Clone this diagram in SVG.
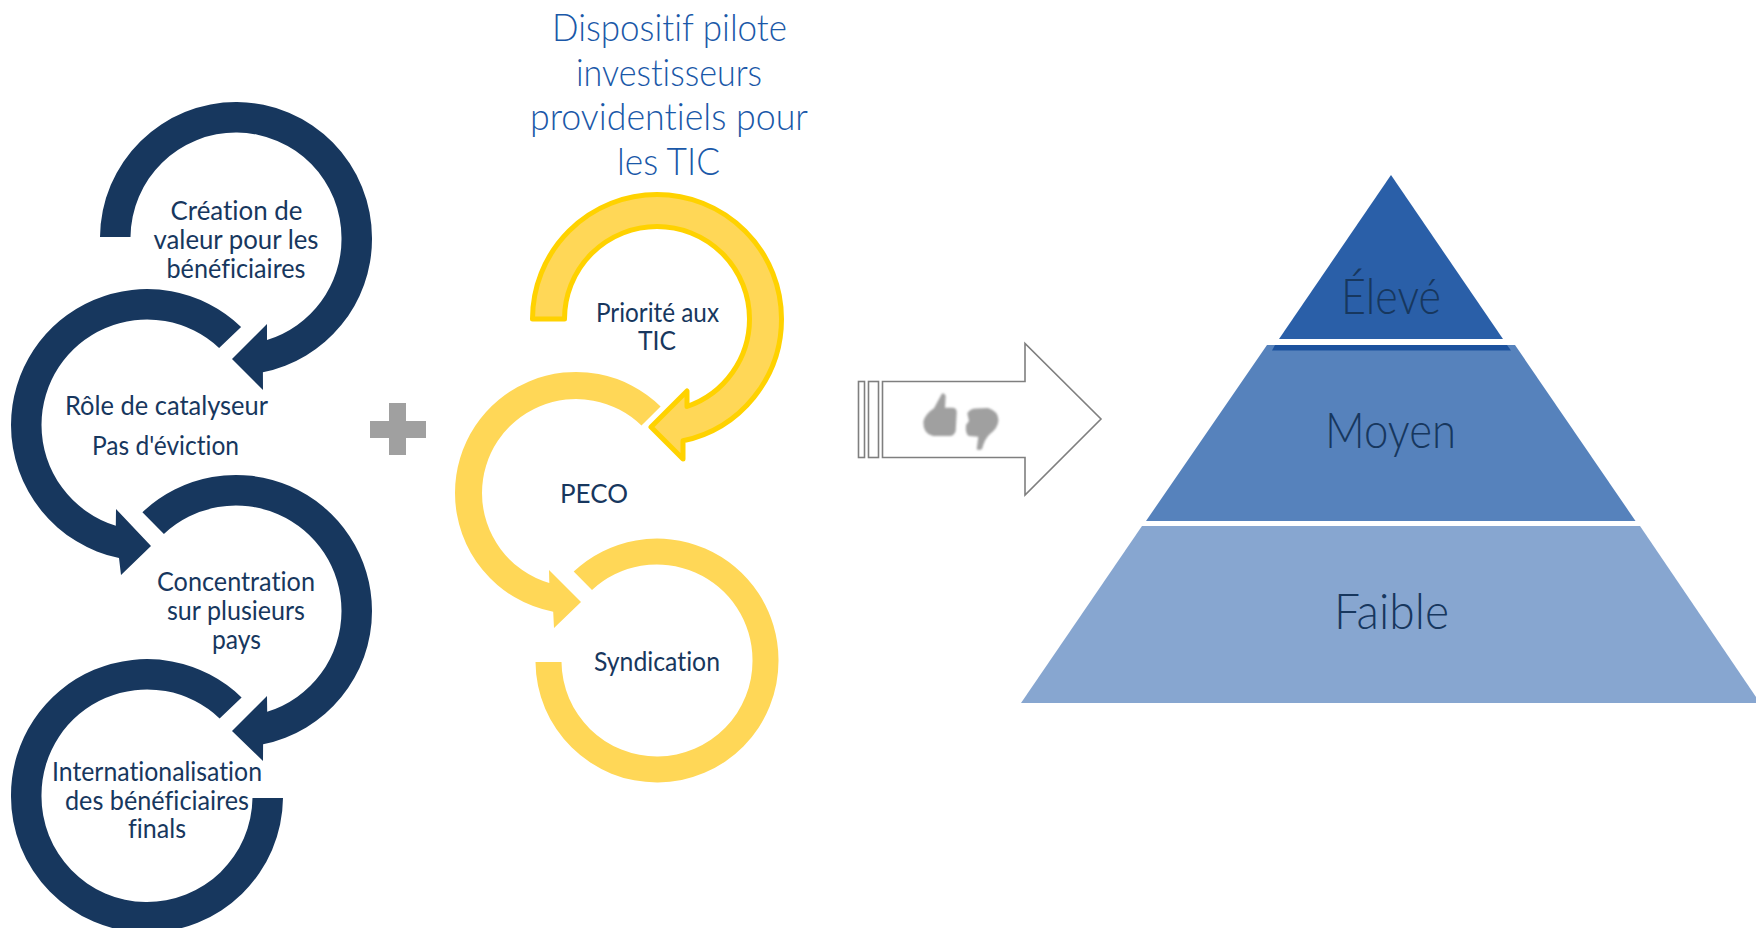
<svg xmlns="http://www.w3.org/2000/svg" width="1756" height="928" viewBox="0 0 1756 928">
<style>
text{font-family:"Lato","Open Sans","Liberation Sans",sans-serif;text-anchor:middle;fill:#17375E;font-variant-ligatures:none}
.t{font-size:26.500px}
.title{font-size:37px;fill:#1A58A8;font-weight:300}
.lvl{font-size:49px;font-weight:300}
.navy{fill:#17375E}
.yel{fill:#FFD757}
.yels{fill:#FFD757;stroke:#FFD200;stroke-width:5;stroke-linejoin:round}
.line{fill:#fff;stroke:#7F7F7F;stroke-width:1.6}
.grey{fill:#A0A0A0}
</style>
<defs><filter id="soft" x="-10%" y="-10%" width="120%" height="120%"><feGaussianBlur stdDeviation="1"/></filter></defs>
<rect width="1756" height="928" fill="#fff"/>
<g id="connectors">
<path class="navy" d="M100,237A136,136 0 0 1 372,239A136,136 0 0 1 262.900,372.300L263,390L232,359L267,324L267,340A105.500,105.500 0 0 0 341.500,239A105.500,105.500 0 0 0 130.500,237Z"/>
<path class="navy" d="M241.100,326.900A136,136 0 0 0 11,425A136,136 0 0 0 119,558.100L121,575L151,546L116,509L115.800,525.800A105.500,105.500 0 0 1 41.500,425A105.500,105.500 0 0 1 219.100,348Z"/>
<path class="navy" d="M142.400,512.300A136,136 0 0 1 372,611A136,136 0 0 1 263.100,744.300L263,761L232,731L267,696L267.200,711.800A105.500,105.500 0 0 0 341.500,611A105.500,105.500 0 0 0 163.900,534Z"/>
<path class="navy" d="M241.600,697.400A136,136 0 0 0 11,795A136,136 0 0 0 283,798L252.500,798A105.500,105.500 0 0 1 41.500,795A105.500,105.500 0 0 1 219.600,718.400Z"/>
<path class="yels" d="M532.500,319A124.500,124.500 0 0 1 781.500,319A124.500,124.500 0 0 1 683,440.800L683,459L651,427L687,391L687,406.500A92.500,92.500 0 0 0 749.500,319A92.500,92.500 0 0 0 564.500,319Z"/>
<path class="yel" d="M660.600,406.400A121,121 0 0 0 455,493A121,121 0 0 0 553.200,611.800L554,628L581,602L549,570L549.300,583.100A94,94 0 0 1 482,493A94,94 0 0 1 641.500,425.600Z"/>
<path class="yel" d="M573.700,571.600A121.500,121.500 0 0 1 778.500,660A121.500,121.500 0 0 1 535.500,662L561.500,662A95.500,95.500 0 0 0 752.500,660A95.500,95.500 0 0 0 592,590Z"/>
</g>
<g id="node-creation"><text class="t" x="236.500" y="219.500" textLength="132" lengthAdjust="spacingAndGlyphs">Création de</text><text class="t" x="236" y="248.500" textLength="165" lengthAdjust="spacingAndGlyphs">valeur pour les</text><text class="t" x="236" y="277.500" textLength="139" lengthAdjust="spacingAndGlyphs">bénéficiaires</text></g>
<g id="node-role"><text class="t" x="166.500" y="415" textLength="203" lengthAdjust="spacingAndGlyphs">Rôle de catalyseur</text><text class="t" x="165.500" y="455" textLength="147" lengthAdjust="spacingAndGlyphs">Pas d'éviction</text></g>
<g id="node-concentration"><text class="t" x="236" y="591" textLength="158" lengthAdjust="spacingAndGlyphs">Concentration</text><text class="t" x="236" y="620" textLength="138" lengthAdjust="spacingAndGlyphs">sur plusieurs</text><text class="t" x="236.500" y="649" textLength="49" lengthAdjust="spacingAndGlyphs">pays</text></g>
<g id="node-internationalisation"><text class="t" x="157" y="781" textLength="210" lengthAdjust="spacingAndGlyphs">Internationalisation</text><text class="t" x="157" y="810" textLength="184" lengthAdjust="spacingAndGlyphs">des bénéficiaires</text><text class="t" x="157" y="838" textLength="58" lengthAdjust="spacingAndGlyphs">finals</text></g>
<g id="node-plus"><path class="grey" d="M389,403H406V421H426V438H406V455H389V438H370V421H389Z"/></g>
<g id="node-title"><text class="title" x="669.500" y="41" textLength="235" lengthAdjust="spacingAndGlyphs">Dispositif pilote</text><text class="title" x="669" y="86" textLength="186" lengthAdjust="spacingAndGlyphs">investisseurs</text><text class="title" x="669" y="130" textLength="278" lengthAdjust="spacingAndGlyphs">providentiels pour</text><text class="title" x="668.500" y="175" textLength="103" lengthAdjust="spacingAndGlyphs">les TIC</text></g>
<g id="node-priorite"><text class="t" x="657.500" y="322" textLength="123" lengthAdjust="spacingAndGlyphs">Priorité aux</text><text class="t" x="657" y="350" textLength="38" lengthAdjust="spacingAndGlyphs">TIC</text></g>
<g id="node-peco"><text class="t" x="594" y="503" textLength="68" lengthAdjust="spacingAndGlyphs">PECO</text></g>
<g id="node-syndication"><text class="t" x="657" y="671" textLength="126" lengthAdjust="spacingAndGlyphs">Syndication</text></g>
<g id="node-arrow">
<rect class="line" x="858.500" y="381.500" width="6" height="76"/>
<rect class="line" x="868.500" y="381.500" width="10" height="76"/>
<path class="line" d="M882.500,381.500H1025V343.500L1101,419L1025,495V457.500H882.500Z"/>
<g filter="url(#soft)"><path class="grey" d="M923.300,421.700Q925,414 934,408.300L941.700,394Q944,392 945.700,396L945,407.700H953Q957,408 956.700,413L955.700,431Q954,436 950,436H933Q923,434 923.300,421.700Z"/>
<path class="grey" d="M967.300,413.300Q970,408.500 976,408.500L988,408Q998,411 998.500,420Q998,428 990,434Q985,438 982,449Q979,451 976.700,449.300L978.300,436.700L969,436Q965,434 966,425L969,421Z"/></g>
</g>
<g id="node-eleve"><path fill="#2A5FA8" d="M1391,175L1503,339H1279Z"/><text class="lvl" x="1391" y="314" textLength="100" lengthAdjust="spacingAndGlyphs">Élevé</text></g>
<g id="node-moyen"><path fill="#5682BC" d="M1267,345H1515L1635.500,521H1146Z"/><path fill="#1C529E" d="M1275,345H1507L1511,350.500H1272Z"/><text class="lvl" x="1390.500" y="447.500" textLength="131" lengthAdjust="spacingAndGlyphs">Moyen</text></g>
<g id="node-faible"><path fill="#87A6D0" d="M1142,526H1640L1760,703H1021Z"/><text class="lvl" x="1391.500" y="628.500" textLength="115" lengthAdjust="spacingAndGlyphs">Faible</text></g>
</svg>
